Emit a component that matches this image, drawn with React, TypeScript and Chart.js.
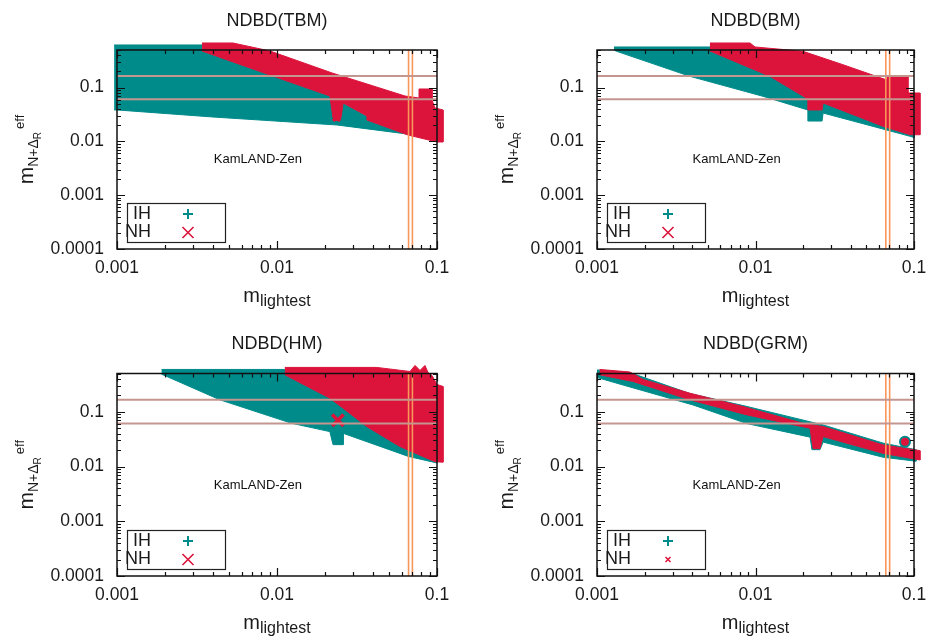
import React, { useEffect, useRef } from 'react';
import { Chart, registerables } from 'chart.js';

Chart.register(...registerables);

const FONT = "'Liberation Sans', Arial, Helvetica, sans-serif";
const TEAL = '#008b8b';
const RED = '#dc143c';
const HLINE = 'rgb(196,150,144)';
const VLINE = 'rgb(250,150,90)';

// Axes
const X_TICKS = [0.001, 0.01, 0.1];
const Y_TICKS = [0.0001, 0.001, 0.01, 0.1];
const X_MIN = 0.001;
const X_MAX = 0.1;
const Y_MIN = 0.0001;
const Y_MAX = 0.5;

// Reference bounds
const KAMLAND_BOUNDS = [0.061, 0.165];
const COSMO_BOUNDS = [0.0664, 0.0702];
const LABEL_POS = [0.0076, 0.0046];

// NDBD(TBM)
const TBM_IH_X = [0.00096, 0.0034, 0.0214, 0.0365, 0.068, 0.0237, 0.00398, 0.001, 0.00096];
const TBM_IH_Y = [0.62, 0.62, 0.0698, 0.0297, 0.0135, 0.0202, 0.0284, 0.0384, 0.0384];
const TBM_NH_X = [0.0034, 0.00531, 0.00904, 0.0221, 0.0631, 0.0772, 0.0772, 0.0931, 0.0931, 0.0971, 0.109, 0.109, 0.1, 0.0659, 0.0365, 0.0365, 0.0259, 0.0251, 0.0237, 0.0224, 0.0214, 0.00904, 0.0034];
const TBM_NH_Y = [0.675, 0.675, 0.479, 0.187, 0.0698, 0.064, 0.0942, 0.0942, 0.0589, 0.0418, 0.0384, 0.00975, 0.00975, 0.01315, 0.025, 0.0297, 0.0518, 0.0272, 0.0239, 0.0272, 0.0698, 0.171, 0.479];
const TBM_MARK = [0.0236, 0.028];

// NDBD(BM)
const BM_IH_X = [0.00128, 0.00516, 0.0123, 0.0214, 0.1, 0.1, 0.0944, 0.0267, 0.0263, 0.0214, 0.0214, 0.01114, 0.00386, 0.00133, 0.00128];
const BM_IH_Y = [0.569, 0.569, 0.2, 0.075, 0.075, 0.0118, 0.01245, 0.0337, 0.0239, 0.0239, 0.0384, 0.0689, 0.162, 0.473, 0.5];
const BM_NH_X = [0.00516, 0.00923, 0.00993, 0.01995, 0.0356, 0.0676, 0.0676, 0.0916, 0.0916, 0.109, 0.109, 0.0944, 0.0637, 0.0267, 0.0263, 0.0214, 0.0214, 0.01233, 0.00516];
const BM_NH_Y = [0.675, 0.675, 0.569, 0.473, 0.267, 0.138, 0.164, 0.164, 0.0794, 0.0794, 0.0133, 0.0133, 0.0191, 0.0518, 0.0384, 0.0384, 0.0614, 0.162, 0.479];

// NDBD(HM)
const HM_IH_X = [0.0019, 0.0112, 0.0214, 0.1, 0.1, 0.0662, 0.0259, 0.0259, 0.0224, 0.0214, 0.01236, 0.0044, 0.0019];
const HM_IH_Y = [0.593, 0.593, 0.182, 0.031, 0.0116, 0.0153, 0.0404, 0.0251, 0.0251, 0.0434, 0.0615, 0.165, 0.486];
const HM_NH_X = [0.0112, 0.042, 0.0678, 0.0729, 0.0783, 0.0841, 0.0879, 0.0931, 0.1, 0.109, 0.109, 0.0971, 0.0587, 0.0364, 0.0259, 0.0214, 0.0112];
const HM_NH_Y = [0.646, 0.646, 0.544, 0.702, 0.569, 0.702, 0.523, 0.461, 0.315, 0.29, 0.012, 0.01225, 0.0231, 0.0536, 0.116, 0.177, 0.474];
const HM_MARK = [0.024, 0.07];

// NDBD(GRM)
const GRM_IH_X = [0.001, 0.00161, 0.00386, 0.00834, 0.0267, 0.0637, 0.103, 0.103, 0.0637, 0.0267, 0.0255, 0.0227, 0.0221, 0.00883, 0.00404, 0.00146, 0.001];
const GRM_IH_Y = [0.58, 0.52, 0.215, 0.13, 0.0575, 0.0268, 0.0203, 0.0125, 0.0148, 0.0279, 0.0203, 0.0203, 0.0344, 0.0608, 0.133, 0.308, 0.423];
const GRM_NH_X = [0.00104, 0.00161, 0.00195, 0.00386, 0.00834, 0.01995, 0.0267, 0.0637, 0.109, 0.109, 0.0637, 0.0267, 0.0255, 0.0231, 0.0221, 0.00883, 0.00386, 0.00169, 0.00104];
const GRM_NH_Y = [0.593, 0.533, 0.389, 0.218, 0.1245, 0.0615, 0.0536, 0.0248, 0.0195, 0.01315, 0.0174, 0.0352, 0.0212, 0.0212, 0.0499, 0.0877, 0.165, 0.357, 0.474];
const GRM_DOT = [0.0877, 0.0284];

type PanelCfg = {
  title: string;
  ihX: number[]; ihY: number[]; nhX: number[]; nhY: number[];
  mark?: number[]; markR?: number; dot?: number[];
  left: number; top: number; w: number; h: number;
  padTop: number; padRight: number; yWidth: number; xHeight: number;
  smallNH?: boolean;
};

const PANELS: PanelCfg[] = [
  { title: 'NDBD(TBM)', ihX: TBM_IH_X, ihY: TBM_IH_Y, nhX: TBM_NH_X, nhY: TBM_NH_Y, mark: TBM_MARK, markR: 5,
    left: 0, top: 0, w: 467, h: 319, padTop: 50, padRight: 30, yWidth: 117, xHeight: 70 },
  { title: 'NDBD(BM)', ihX: BM_IH_X, ihY: BM_IH_Y, nhX: BM_NH_X, nhY: BM_NH_Y,
    left: 465, top: 0, w: 470, h: 319, padTop: 50, padRight: 21, yWidth: 132, xHeight: 70 },
  { title: 'NDBD(HM)', ihX: HM_IH_X, ihY: HM_IH_Y, nhX: HM_NH_X, nhY: HM_NH_Y, mark: HM_MARK, markR: 8,
    left: 0, top: 319, w: 467, h: 319, padTop: 54.5, padRight: 30, yWidth: 117, xHeight: 62 },
  { title: 'NDBD(GRM)', ihX: GRM_IH_X, ihY: GRM_IH_Y, nhX: GRM_NH_X, nhY: GRM_NH_Y, dot: GRM_DOT,
    left: 465, top: 319, w: 470, h: 319, padTop: 54.5, padRight: 21, yWidth: 132, xHeight: 62, smallNH: true },
];

const CLIP = { left: 6, top: 10, right: 10, bottom: 2 };

function logTicks(min: number, max: number): [number, boolean][] {
  const out: [number, boolean][] = [];
  const d0 = Math.floor(Math.log10(min));
  const d1 = Math.ceil(Math.log10(max));
  for (let d = d0; d <= d1; d++) {
    for (let k = 1; k <= 9; k++) {
      const v = k * Math.pow(10, d);
      if (v >= min * 0.999 && v <= max * 1.001) out.push([v, k === 1]);
    }
  }
  return out;
}

// Fills region datasets using the points Chart.js placed through its scales.
const regionFill = {
  id: 'regionFill',
  beforeDatasetDraw(chart: any, args: any) {
    const ds = chart.data.datasets[args.index];
    if (!ds.region) return;
    const pts = args.meta.data;
    if (!pts || !pts.length) return;
    const a = chart.chartArea;
    const ctx: CanvasRenderingContext2D = chart.ctx;
    ctx.save();
    ctx.beginPath();
    ctx.rect(a.left - CLIP.left, a.top - CLIP.top, a.right - a.left + CLIP.left + CLIP.right, a.bottom - a.top + CLIP.top + CLIP.bottom);
    ctx.clip();
    ctx.beginPath();
    pts.forEach((p: any, i: number) => (i ? ctx.lineTo(p.x, p.y) : ctx.moveTo(p.x, p.y)));
    ctx.closePath();
    ctx.fillStyle = ds.backgroundColor;
    ctx.fill();
    ctx.restore();
  },
};

function makeDecor(cfg: PanelCfg) {
  return {
    id: 'decor' + cfg.title,
    afterDatasetsDraw(chart: any) {
      const ctx: CanvasRenderingContext2D = chart.ctx;
      const a = chart.chartArea;
      const xs = chart.scales.x;
      const ys = chart.scales.y;
      ctx.save();
      // frame
      ctx.strokeStyle = '#111';
      ctx.lineWidth = 1.5;
      ctx.strokeRect(a.left, a.top, a.right - a.left, a.bottom - a.top);
      // inward ticks on all four sides
      ctx.lineWidth = 1.2;
      ctx.beginPath();
      logTicks(X_MIN, X_MAX).forEach(([v, major]) => {
        const p = Math.round(xs.getPixelForValue(v)) + 0.5;
        const len = major ? 8 : 4;
        ctx.moveTo(p, a.bottom); ctx.lineTo(p, a.bottom - len);
        ctx.moveTo(p, a.top); ctx.lineTo(p, a.top + len);
      });
      logTicks(Y_MIN, Y_MAX).forEach(([v, major]) => {
        const p = Math.round(ys.getPixelForValue(v)) + 0.5;
        const len = major ? 8 : 4;
        ctx.moveTo(a.left, p); ctx.lineTo(a.left + len, p);
        ctx.moveTo(a.right, p); ctx.lineTo(a.right - len, p);
      });
      ctx.stroke();

      // KamLAND-Zen label
      ctx.fillStyle = '#111';
      ctx.font = `13px ${FONT}`;
      ctx.textAlign = 'center';
      ctx.textBaseline = 'middle';
      ctx.fillText('KamLAND-Zen', xs.getPixelForValue(LABEL_POS[0]), ys.getPixelForValue(LABEL_POS[1]));

      // Title
      ctx.font = `18px ${FONT}`;
      ctx.fillStyle = '#1a1a1a';
      ctx.fillText(cfg.title, (a.left + a.right) / 2, a.top - 29);

      // Legend
      const L = a.left, B = a.bottom;
      ctx.strokeStyle = '#222';
      ctx.lineWidth = 1.2;
      ctx.strokeRect(L + 10.5, B - 45.5, 98, 39);
      ctx.font = `18px ${FONT}`;
      ctx.textAlign = 'right';
      ctx.fillStyle = '#1a1a1a';
      ctx.fillText('IH', L + 34, B - 35);
      ctx.fillText('NH', L + 34, B - 16.5);
      const mx = L + 71;
      ctx.strokeStyle = TEAL;
      ctx.lineWidth = 2;
      ctx.beginPath();
      ctx.moveTo(mx - 5, B - 35); ctx.lineTo(mx + 5, B - 35);
      ctx.moveTo(mx, B - 40); ctx.lineTo(mx, B - 30);
      ctx.stroke();
      const r = cfg.smallNH ? 2.5 : 5.5;
      ctx.strokeStyle = RED;
      ctx.lineWidth = cfg.smallNH ? 1.5 : 1.6;
      ctx.beginPath();
      ctx.moveTo(mx - r, B - 16.5 - r); ctx.lineTo(mx + r, B - 16.5 + r);
      ctx.moveTo(mx + r, B - 16.5 - r); ctx.lineTo(mx - r, B - 16.5 + r);
      ctx.stroke();

      // X axis title: m_lightest
      ctx.fillStyle = '#1a1a1a';
      ctx.textAlign = 'left';
      ctx.textBaseline = 'alphabetic';
      const mF = `20px ${FONT}`;
      const sF = `16px ${FONT}`;
      ctx.font = mF;
      const wm = ctx.measureText('m').width;
      ctx.font = sF;
      const wl = ctx.measureText('lightest').width;
      const x0 = (a.left + a.right) / 2 - (wm + wl) / 2;
      ctx.font = mF;
      ctx.fillText('m', x0, B + 53);
      ctx.font = sF;
      ctx.fillText('lightest', x0 + wm, B + 57);

      // Y axis title: m_{N+Δ_R}^{eff}
      ctx.translate(L - 84, (a.top + a.bottom) / 2);
      ctx.rotate(-Math.PI / 2);
      const yM = `21px ${FONT}`;
      const yS = `14px ${FONT}`;
      const yR = `10px ${FONT}`;
      const yE = `13px ${FONT}`;
      ctx.font = yM; const w1 = ctx.measureText('m').width;
      ctx.font = yS; const w2 = ctx.measureText('N+Δ').width;
      ctx.font = yR; const w3 = ctx.measureText('R').width;
      ctx.font = yE; const w4 = ctx.measureText('eff').width;
      let u = -(w1 + w2 + w3 + 3 + w4) / 2;
      ctx.font = yM; ctx.fillText('m', u, 0); u += w1;
      ctx.font = yS; ctx.fillText('N+Δ', u, 5); u += w2;
      ctx.font = yR; ctx.fillText('R', u, 8); u += w3 + 3;
      ctx.font = yE; ctx.fillText('eff', u, -9);
      ctx.restore();
    },
  };
}

function poly(xs: number[], ys: number[], color: string, order: number) {
  return {
    data: xs.map((x, i) => ({ x, y: ys[i] })),
    region: true,
    borderColor: color,
    backgroundColor: color,
    borderWidth: 1,
    pointRadius: 0,
    fill: false,
    tension: 0,
    order,
    clip: CLIP,
  };
}

function buildDatasets(cfg: PanelCfg) {
  const ds: any[] = [];
  KAMLAND_BOUNDS.forEach((v) => {
    ds.push({ data: [{ x: X_MIN, y: v }, { x: X_MAX, y: v }], borderColor: HLINE, borderWidth: 2, pointRadius: 0, fill: false, order: 0 });
  });
  COSMO_BOUNDS.forEach((v) => {
    ds.push({ data: [{ x: v, y: Y_MIN }, { x: v, y: Y_MAX }], borderColor: VLINE, borderWidth: 1.6, pointRadius: 0, fill: false, order: 0 });
  });
  if (cfg.mark) {
    ds.push({ data: [{ x: cfg.mark[0], y: cfg.mark[1] }], showLine: false, pointStyle: 'crossRot', pointRadius: cfg.markR || 6,
      borderColor: RED, borderWidth: 3.5, order: 1 });
  }
  if (cfg.dot) {
    ds.push({ data: [{ x: cfg.dot[0], y: cfg.dot[1] }], showLine: false, pointStyle: 'circle', pointRadius: 5,
      backgroundColor: RED, borderColor: TEAL, borderWidth: 2, order: 1 });
  }
  ds.push(poly(cfg.nhX, cfg.nhY, RED, 2));
  ds.push(poly(cfg.ihX, cfg.ihY, TEAL, 3));
  return ds;
}

function Panel({ cfg }: { cfg: PanelCfg }) {
  const ref = useRef<HTMLCanvasElement>(null);
  useEffect(() => {
    if (!ref.current) return;
    const tickFont = { family: FONT, size: 17.5 };
    const chart = new Chart(ref.current, {
      type: 'line',
      data: { datasets: buildDatasets(cfg) },
      options: {
        animation: false,
        responsive: false,
        events: [],
        layout: { padding: { left: 0, top: cfg.padTop, right: cfg.padRight, bottom: 0 } },
        plugins: { legend: { display: false }, tooltip: { enabled: false }, title: { display: false } },
        scales: {
          x: {
            type: 'logarithmic', min: X_MIN, max: X_MAX,
            grid: { display: false, drawTicks: false },
            border: { display: false },
            afterBuildTicks: (s: any) => { s.ticks = X_TICKS.map((v) => ({ value: v })); },
            afterFit: (s: any) => { s.height = cfg.xHeight; },
            ticks: { autoSkip: false, maxRotation: 0, padding: 8.5, color: '#1a1a1a', font: tickFont,
              callback: (v: any) => String(v) },
          },
          y: {
            type: 'logarithmic', min: Y_MIN, max: Y_MAX,
            grid: { display: false, drawTicks: false },
            border: { display: false },
            afterBuildTicks: (s: any) => { s.ticks = Y_TICKS.map((v) => ({ value: v })); },
            afterFit: (s: any) => { s.width = cfg.yWidth; },
            ticks: { autoSkip: false, padding: 13, color: '#1a1a1a', font: tickFont,
              callback: (v: any) => String(v) },
          },
        },
      } as any,
      plugins: [regionFill, makeDecor(cfg)],
    });
    return () => chart.destroy();
  }, []);
  return (
    <canvas ref={ref} width={cfg.w} height={cfg.h}
      style={{ position: 'absolute', left: cfg.left, top: cfg.top, width: cfg.w, height: cfg.h, display: 'block' }} />
  );
}

export default function App() {
  return (
    <div style={{ position: 'absolute', left: 0, top: 0, width: 935, height: 638, background: '#fff', overflow: 'hidden' }}>
      {PANELS.map((p, i) => <Panel key={i} cfg={p} />)}
    </div>
  );
}
